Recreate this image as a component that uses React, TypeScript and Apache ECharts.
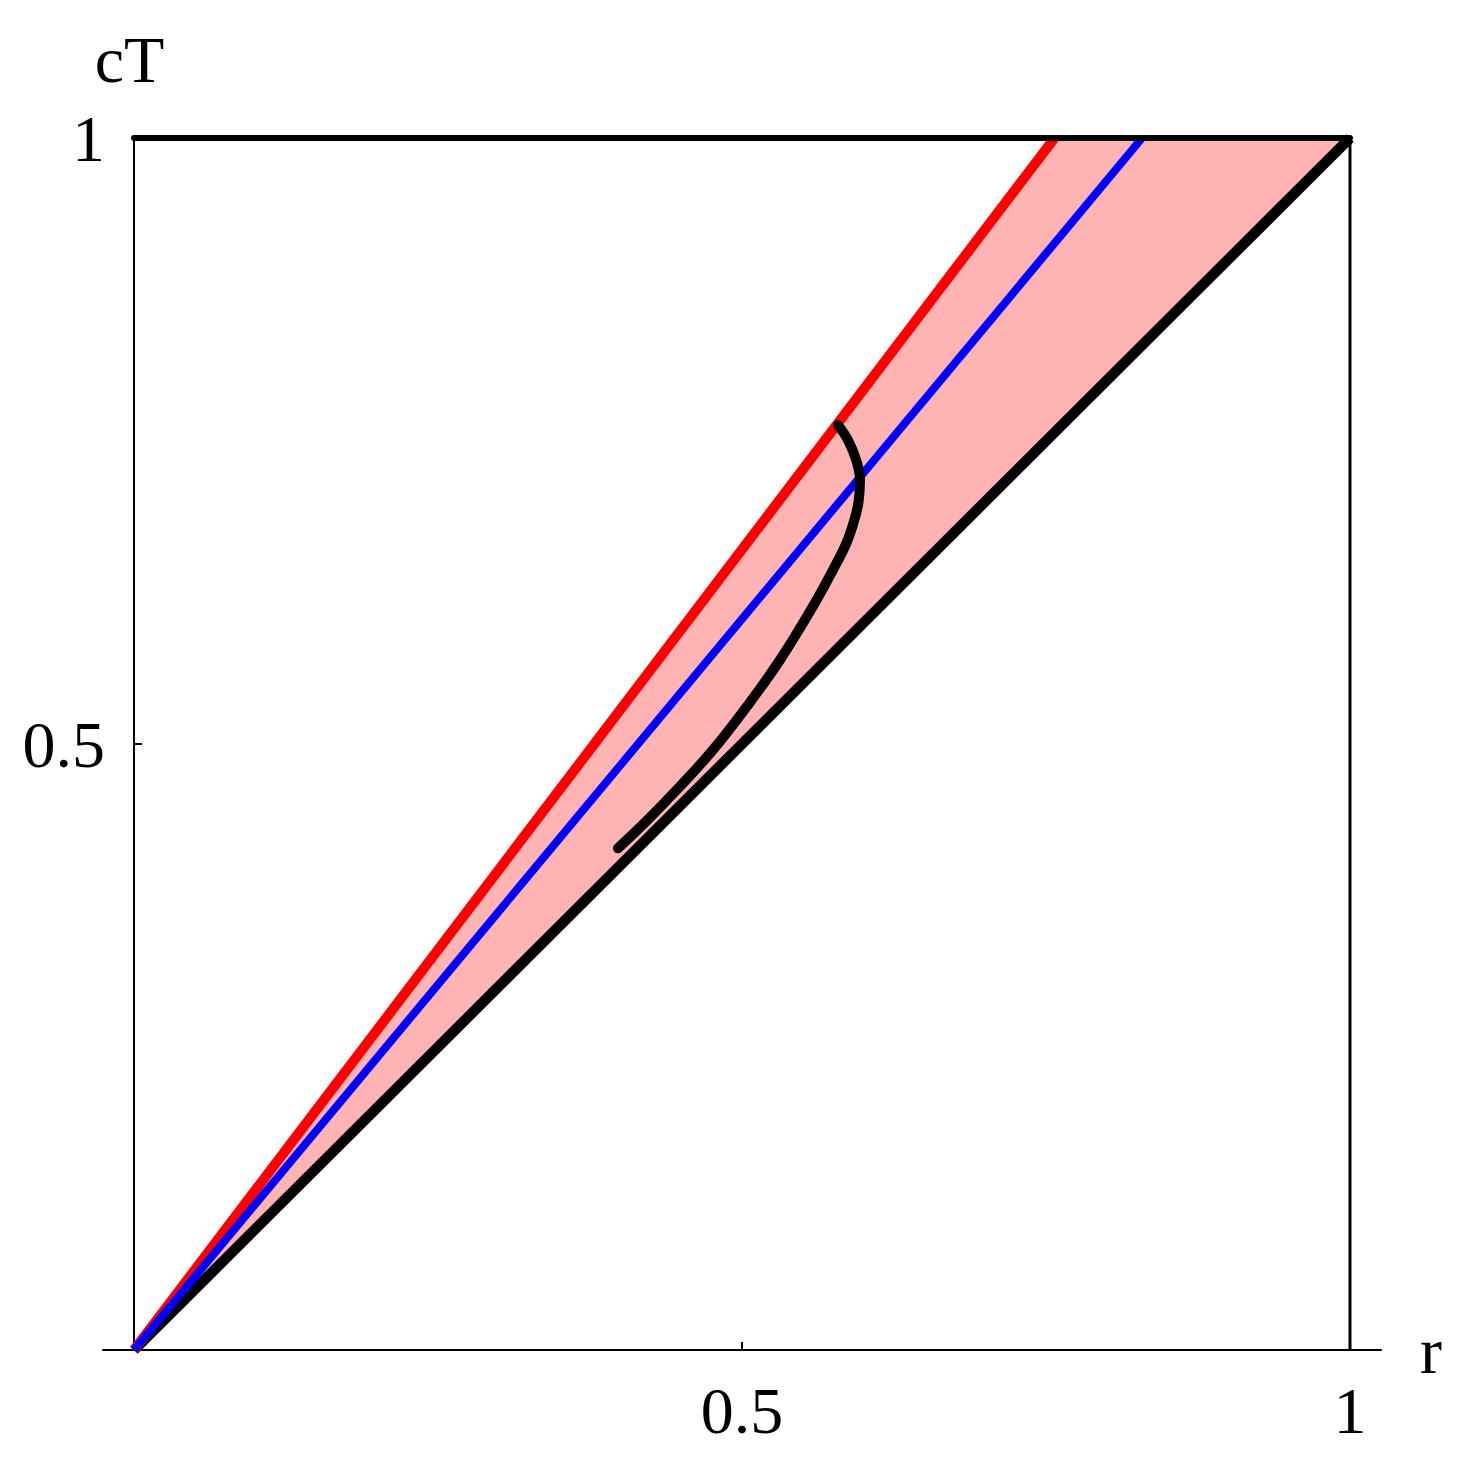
import React, { useEffect, useRef } from "react";
import * as echarts from "echarts";

// Tick / label values
const xTickValues = [0.5];
const xLabelValues = [0.5, 1];
const yTickValues = [0.5];
const yLabelValues = [0.5, 1];

// Lines (r, cT)
const diagR = [0, 1];
const diagT = [0, 1];
const redR = [0, 0.757];
const redT = [0, 1];
const blueR = [0, 0.829];
const blueT = [0, 1];
const topR = [0, 1];
const topT = [1, 1];
const rightR = [1, 1];
const rightT = [0, 1];

// Shaded region between red line and diagonal
const fillR = [0, 0.757, 1];
const fillT = [0, 1, 1];

// Black curve
const curveR = [0.579, 0.587, 0.594, 0.597, 0.596, 0.593, 0.586, 0.575, 0.558, 0.531, 0.504, 0.476, 0.449, 0.422, 0.398];
const curveT = [0.763, 0.751, 0.734, 0.718, 0.701, 0.687, 0.666, 0.644, 0.613, 0.569, 0.531, 0.495, 0.465, 0.437, 0.414];

const zip = (a: number[], b: number[]) => a.map((v, i) => [v, b[i]]);

const FONT = '"Liberation Serif", "Times New Roman", "DejaVu Serif", serif';
const FS = 66;

export default function App() {
  const ref = useRef<HTMLDivElement>(null);
  useEffect(() => {
    if (!ref.current) return;
    const chart = echarts.init(ref.current, null, { renderer: "svg" });
    const fillPts = zip(fillR, fillT);
    const lineSeries = (name: string, data: number[][], color: string, width: number, cap = "butt", clip = true, smooth: number | boolean = false) => ({
      name,
      type: "line",
      data,
      symbol: "none",
      showSymbol: false,
      clip,
      smooth,
      lineStyle: { color, width, cap, join: "round" },
      silent: true,
    });
    chart.setOption({
      animation: false,
      backgroundColor: "#fff",
      grid: { left: 103, right: 95, top: 138, bottom: 122, containLabel: false, outerBoundsMode: "none" },
      xAxis: {
        type: "value",
        min: -0.0255,
        max: 1.0255,
        splitLine: { show: false },
        axisLine: { show: true, onZero: true, lineStyle: { color: "#000", width: 2 } },
        axisTick: { show: true, inside: true, length: 8, customValues: xTickValues, lineStyle: { color: "#000", width: 2 } },
        axisLabel: {
          customValues: xLabelValues,
          formatter: (v: number) => String(v),
          fontSize: FS,
          fontFamily: FONT,
          color: "#000",
          margin: 27,
        },
        name: "r",
        nameLocation: "end",
        nameGap: 39,
        nameTextStyle: { fontSize: FS, fontFamily: FONT, color: "#000", align: "left", verticalAlign: "middle" },
      },
      yAxis: {
        type: "value",
        min: 0,
        max: 1,
        splitLine: { show: false },
        axisLine: { show: true, onZero: true, lineStyle: { color: "#000", width: 2 } },
        axisTick: { show: true, inside: true, length: 8, customValues: yTickValues, lineStyle: { color: "#000", width: 2 } },
        axisLabel: {
          customValues: yLabelValues,
          formatter: (v: number) => String(v),
          fontSize: FS,
          fontFamily: FONT,
          color: "#000",
          margin: -2,
        },
        name: "cT",
        nameLocation: "end",
        nameGap: 46,
        nameTextStyle: { fontSize: FS, fontFamily: FONT, color: "#000", align: "center", verticalAlign: "bottom", padding: [0, 9, 0, 0] },
      },
      series: [
        {
          name: "region",
          type: "custom",
          data: [0],
          silent: true,
          renderItem: (_params: any, api: any) => ({
            type: "polygon",
            shape: { points: fillPts.map((p) => api.coord(p)) },
            style: { fill: "#FFB3B3", stroke: "none" },
          }),
        },
        lineSeries("diagonal", zip(diagR, diagT), "#000", 10.5),
        lineSeries("red", zip(redR, redT), "#FF0000", 10),
        lineSeries("blue", zip(blueR, blueT), "#0000FF", 8),
        lineSeries("curve", zip(curveR, curveT), "#000", 10, "round", false, 0.4),
        lineSeries("right", zip(rightR, rightT), "#000", 3, "butt", false),
        lineSeries("top", zip(topR, topT), "#000", 6, "round", false),
      ],
    });
    return () => chart.dispose();
  }, []);
  return <div ref={ref} style={{ position: "absolute", left: 0, top: 0, width: 1476, height: 1472 }} />;
}
